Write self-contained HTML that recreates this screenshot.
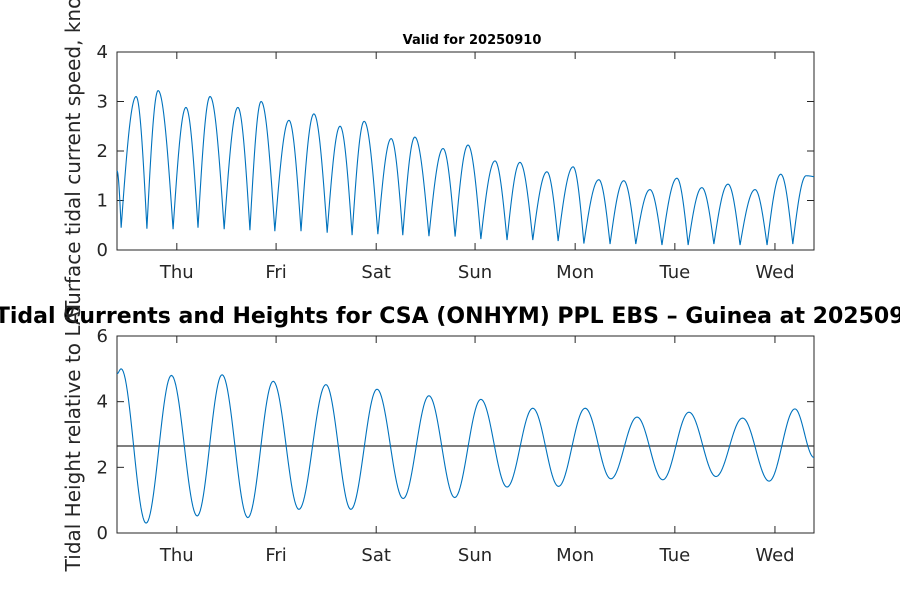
<!DOCTYPE html>
<html><head><meta charset="utf-8"><style>
body{margin:0;background:#fff}
svg{display:block;font-family:"DejaVu Sans","Liberation Sans",sans-serif}
</style></head><body>
<svg id="c" width="900" height="600" viewBox="0 0 900 600">
<rect width="900" height="600" fill="#fff"/>
</svg>
<script>
// Time in hours from start of window; total window length
const totalHours = 167.8;
const dayLabels = ["Thu","Fri","Sat","Sun","Mon","Tue","Wed"];
const dayTickHours = [14.4,38.3,62.4,86.2,110.3,134.3,158.4];
// Speed extrema (alternating trough/peak), knots
const speedTimes = [0,1,4.6,7.2,9.9,13.5,16.6,19.5,22.4,25.8,29.1,32,34.7,38,41.4,44.3,47.4,50.6,53.7,56.6,59.5,62.8,66,68.8,71.7,75.1,78.5,81.4,84.5,87.6,91,93.9,97,100.1,103.5,106.2,109.8,112.4,116,118.7,122,124.9,128.3,131.2,134.8,137.5,140.8,143.7,147.1,150,153.6,156.5,159.8,162.7,165.9,167.8];
const speedValues = [1.6,0.45,3.1,0.43,3.22,0.42,2.88,0.45,3.1,0.42,2.88,0.4,3.0,0.38,2.62,0.38,2.75,0.35,2.5,0.3,2.6,0.32,2.25,0.3,2.28,0.28,2.05,0.27,2.12,0.22,1.8,0.2,1.77,0.2,1.58,0.18,1.68,0.13,1.42,0.12,1.4,0.12,1.22,0.1,1.45,0.1,1.26,0.12,1.33,0.1,1.22,0.1,1.53,0.12,1.5,1.48];
// Height extrema, metres
const heightTimes = [0,1,7,13.1,19.3,25.3,31.5,37.6,43.8,50.3,56.3,62.6,68.9,75.1,81.3,87.6,93.9,100.1,106.3,112.7,118.9,125.2,131.4,137.7,144.2,150.6,157,163.2,167.8];
const heightValues = [4.85,5.0,0.3,4.8,0.52,4.82,0.47,4.62,0.72,4.52,0.72,4.38,1.05,4.18,1.08,4.07,1.4,3.8,1.42,3.8,1.65,3.53,1.62,3.68,1.72,3.5,1.58,3.78,2.3];
const meanLevel = 2.65;

const svg=document.getElementById('c');
const NS='http://www.w3.org/2000/svg';
function mk(tag,attrs,parent){const e=document.createElementNS(NS,tag);for(const k in attrs)e.setAttribute(k,attrs[k]);(parent||svg).appendChild(e);return e;}
const X0=117,X1=814;
const xs=h=>X0+(X1-X0)*h/totalHours;

function axes(name,top,bot,ymax,yticks,times,vals,sharpTroughs,mean){
  const ys=v=>bot-(bot-top)*v/ymax;
  const g=mk('g',{});
  
  
  const box=mk('rect',{x:X0,y:top,width:X1-X0,height:bot-top,fill:'#fff',stroke:'#262626','stroke-width':1},g);
  
  
  yticks.forEach(v=>{
    const y=ys(v);
    mk('line',{x1:X0,x2:X0+7,y1:y,y2:y,stroke:'#262626'},g);
    mk('line',{x1:X1,x2:X1-7,y1:y,y2:y,stroke:'#262626'},g);
    const t=mk('text',{x:X0-9,y:y+6,'text-anchor':'end','font-size':18,fill:'#262626'},g);
    t.textContent=v;
    
    
  });
  dayTickHours.forEach((h,i)=>{
    const x=xs(h);
    mk('line',{x1:x,x2:x,y1:bot,y2:bot-7,stroke:'#262626'},g);
    mk('line',{x1:x,x2:x,y1:top,y2:top+7,stroke:'#262626'},g);
    const t=mk('text',{x:x,y:bot+28,'text-anchor':'middle','font-size':18,fill:'#262626'},g);
    t.textContent=dayLabels[i];
    
    
  });
  let d='';
  for(let i=0;i<times.length-1;i++){
    const t0=times[i],t1=times[i+1],v0=vals[i],v1=vals[i+1];
    const n=24;
    for(let k=(i===0?0:1);k<=n;k++){
      const u=k/n;let f;
      if(sharpTroughs){
        if(v1>v0) f=Math.sin(u*Math.PI/2); else f=1-Math.cos(u*Math.PI/2);
      } else f=(1-Math.cos(u*Math.PI))/2;
      const v=v0+(v1-v0)*f;
      d+=(d?'L':'M')+xs(t0+(t1-t0)*u).toFixed(2)+','+ys(v).toFixed(2);
    }
  }
  if(mean!==undefined){
    const m=mk('line',{x1:X0,x2:X1,y1:ys(mean),y2:ys(mean),stroke:'#333','stroke-width':1.2},g);
    
    
  }
  const p=mk('path',{d:d,fill:'none',stroke:'#0072bd','stroke-width':1.1},g);
  
  
}
axes('speed-axes',52,250,4,[0,1,2,3,4],speedTimes,speedValues,true);
axes('height-axes',336,533,6,[0,2,4,6],heightTimes,heightValues,false,meanLevel);

const t1=mk('text',{x:472,y:44,'text-anchor':'middle','font-size':13,'font-weight':'bold',fill:'#000'});
t1.textContent='Valid for 20250910';


const t2=mk('text',{x:465,y:323,'text-anchor':'middle','font-size':22,'font-weight':'bold',fill:'#000'});
t2.textContent='Tidal Currents and Heights for CSA (ONHYM) PPL EBS  \u2013 Guinea at 20250910';


const yl1=mk('text',{x:0,y:0,'text-anchor':'middle','font-size':20,fill:'#262626',transform:'translate(80,148) rotate(-90)'});
yl1.textContent='Surface tidal current speed, knots';


const yl2=mk('text',{x:0,y:0,'text-anchor':'middle','font-size':20,fill:'#262626',transform:'translate(80,436) rotate(-90)'});
yl2.textContent='Tidal Height relative to LAT';


</script>
</body></html>
